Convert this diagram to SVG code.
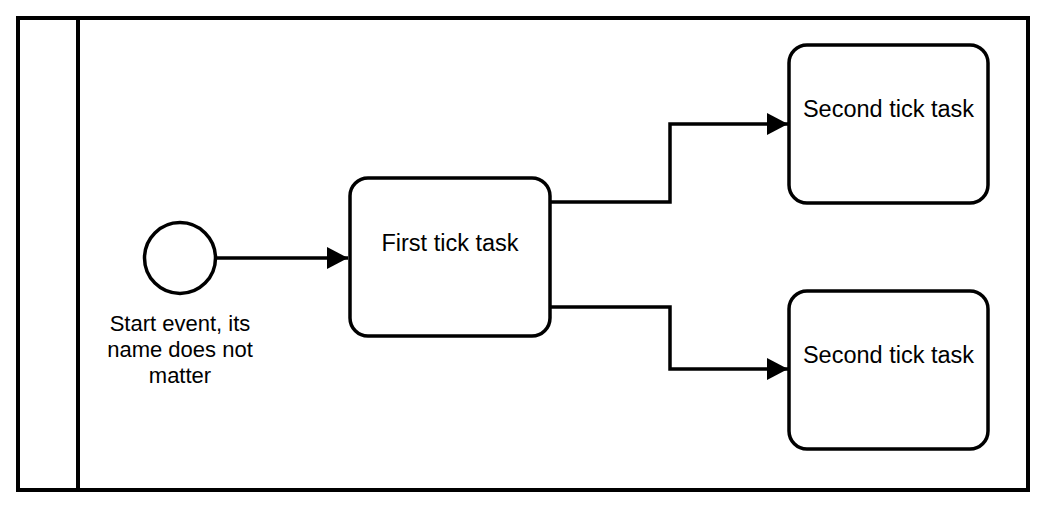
<svg xmlns="http://www.w3.org/2000/svg" width="1042" height="512" viewBox="0 0 1042 512">
  <style>
    .pool { fill: #ffffff; stroke: #000000; stroke-width: 4; }
    .lane { fill: none; stroke: #000000; stroke-width: 4; }
    .task { fill: #ffffff; stroke: #000000; stroke-width: 3.5; }
    .event { fill: #ffffff; stroke: #000000; stroke-width: 3.5; }
    .flow { fill: none; stroke: #000000; stroke-width: 3.5; marker-end: url(#arrow); }
    .tasklabel { font-family: "Liberation Sans", Arial, sans-serif; font-size: 23.5px; fill: #000000; text-anchor: middle; }
    .evlabel { font-family: "Liberation Sans", Arial, sans-serif; font-size: 22px; fill: #000000; text-anchor: middle; }
  </style>
  <defs>
    <marker id="arrow" markerUnits="userSpaceOnUse" markerWidth="22" markerHeight="24" refX="21" refY="11" orient="auto">
      <path d="M0,0 L21,11 L0,22 Z" fill="#000000"/>
    </marker>
  </defs>
  <rect width="1042" height="512" fill="#ffffff"/>
  <g id="pool">
    <rect class="pool" x="18" y="18" width="1010" height="472"/>
    <line class="lane" x1="78" y1="18" x2="78" y2="490"/>
  </g>
  <g id="connectors">
    <path class="flow" d="M216,258 L348,258"/>
    <path class="flow" d="M551,202 L670,202 L670,124 L788,124"/>
    <path class="flow" d="M551,307 L670,307 L670,369 L788,369"/>
  </g>
  <g id="start-event">
    <circle class="event" cx="180" cy="258" r="35.5"/>
    <text class="evlabel" x="180" y="331">Start event, its</text>
    <text class="evlabel" x="180" y="357">name does not</text>
    <text class="evlabel" x="180" y="383">matter</text>
  </g>
  <g id="first-task">
    <rect class="task" x="350" y="178" width="200" height="158" rx="18" ry="18"/>
    <text class="tasklabel" x="450" y="251">First tick task</text>
  </g>
  <g id="second-task-top">
    <rect class="task" x="789" y="45" width="199" height="158" rx="18" ry="18"/>
    <text class="tasklabel" x="888.5" y="117">Second tick task</text>
  </g>
  <g id="second-task-bottom">
    <rect class="task" x="789" y="291" width="199" height="158" rx="18" ry="18"/>
    <text class="tasklabel" x="888.5" y="363">Second tick task</text>
  </g>
</svg>
